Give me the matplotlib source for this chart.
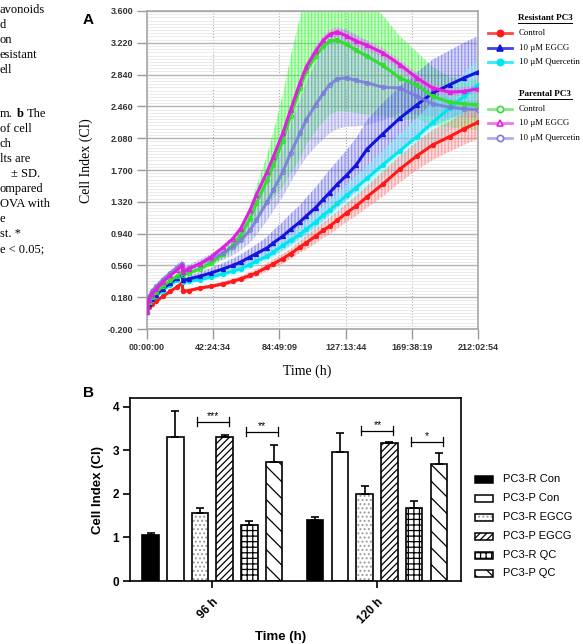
import matplotlib
matplotlib.use('Agg')
import matplotlib.pyplot as plt
import numpy as np
from matplotlib.lines import Line2D
from matplotlib.patches import Rectangle
from matplotlib.ticker import AutoMinorLocator

W, H = 583, 644

# ---------------- panel A: real-time cell index ----------------
t_h = [0, 1, 3, 6, 10, 15, 19, 22.5, 23, 27, 34, 41, 49, 55, 60, 66, 70, 77, 81, 87,
       92, 98, 102, 108, 113, 117, 122, 128, 134, 141, 151, 162, 173, 183, 194, 203, 212]

r_con = [0.0, 0.06, 0.10, 0.13, 0.19, 0.25, 0.30, 0.35, 0.25, 0.26, 0.29, 0.31, 0.34, 0.37, 0.40,
         0.44, 0.47, 0.54, 0.58, 0.64, 0.70, 0.78, 0.83, 0.91, 0.98, 1.03, 1.10, 1.19, 1.27, 1.38,
         1.53, 1.71, 1.87, 2.00, 2.10, 2.19, 2.27]
r_egcg = [0.0, 0.10, 0.16, 0.21, 0.28, 0.35, 0.41, 0.47, 0.38, 0.40, 0.43, 0.47, 0.52, 0.56, 0.60,
          0.66, 0.70, 0.77, 0.83, 0.91, 0.99, 1.08, 1.15, 1.25, 1.35, 1.43, 1.53, 1.64, 1.76, 1.95,
          2.13, 2.32, 2.48, 2.62, 2.72, 2.80, 2.87]
r_qc = [0.0, 0.10, 0.15, 0.19, 0.26, 0.33, 0.38, 0.45, 0.36, 0.37, 0.39, 0.42, 0.46, 0.49, 0.52,
        0.57, 0.61, 0.67, 0.72, 0.80, 0.86, 0.93, 0.99, 1.08, 1.16, 1.22, 1.30, 1.40, 1.49, 1.60,
        1.76, 1.93, 2.10, 2.27, 2.44, 2.58, 2.72]
p_con = [0.0, 0.12, 0.18, 0.24, 0.31, 0.38, 0.43, 0.48, 0.45, 0.47, 0.52, 0.59, 0.70, 0.80, 0.92,
         1.12, 1.30, 1.58, 1.76, 2.05, 2.35, 2.68, 2.88, 3.06, 3.18, 3.24, 3.25, 3.20, 3.13, 3.06,
         2.95, 2.80, 2.71, 2.58, 2.51, 2.49, 2.48]
p_egcg = [0.0, 0.15, 0.22, 0.28, 0.36, 0.44, 0.50, 0.56, 0.48, 0.52, 0.58, 0.66, 0.78, 0.88, 1.00,
          1.22, 1.40, 1.68, 1.86, 2.14, 2.42, 2.74, 2.93, 3.12, 3.25, 3.32, 3.35, 3.30, 3.24, 3.19,
          3.10, 2.96, 2.80, 2.68, 2.63, 2.64, 2.67]
p_qc = [0.0, 0.18, 0.25, 0.31, 0.39, 0.47, 0.53, 0.58, 0.50, 0.53, 0.58, 0.64, 0.71, 0.78, 0.86,
        0.98, 1.10, 1.32, 1.46, 1.68, 1.90, 2.14, 2.30, 2.48, 2.62, 2.72, 2.79, 2.80, 2.77, 2.74,
        2.69, 2.68, 2.58, 2.49, 2.45, 2.43, 2.42]

sd_r_con = [0.0, 0.01, 0.01, 0.01, 0.01, 0.01, 0.01, 0.01, 0.01, 0.02, 0.02, 0.02, 0.03, 0.03, 0.03,
            0.04, 0.04, 0.05, 0.05, 0.06, 0.06, 0.07, 0.08, 0.09, 0.09, 0.10, 0.10, 0.11, 0.12, 0.13,
            0.15, 0.16, 0.17, 0.18, 0.18, 0.19, 0.20]
sd_r_egcg = [0.0, 0.01, 0.01, 0.01, 0.02, 0.02, 0.02, 0.03, 0.03, 0.04, 0.05, 0.06, 0.07, 0.08, 0.09,
             0.10, 0.11, 0.13, 0.15, 0.17, 0.19, 0.20, 0.22, 0.24, 0.26, 0.27, 0.28, 0.30, 0.32, 0.35,
             0.37, 0.38, 0.39, 0.40, 0.41, 0.42, 0.43]
sd_r_qc = [0.0, 0.01, 0.01, 0.01, 0.01, 0.02, 0.02, 0.02, 0.02, 0.03, 0.03, 0.03, 0.04, 0.04, 0.05,
           0.05, 0.06, 0.06, 0.07, 0.08, 0.08, 0.09, 0.10, 0.11, 0.11, 0.12, 0.12, 0.13, 0.14, 0.15,
           0.17, 0.20, 0.22, 0.25, 0.27, 0.28, 0.30]
sd_p_con = [0.0, 0.02, 0.02, 0.02, 0.02, 0.02, 0.02, 0.02, 0.02, 0.03, 0.03, 0.04, 0.06, 0.08, 0.10,
            0.15, 0.20, 0.30, 0.40, 0.55, 0.70, 0.85, 0.88, 0.90, 0.90, 0.88, 0.85, 0.80, 0.75, 0.70,
            0.60, 0.50, 0.40, 0.35, 0.30, 0.30, 0.30]
sd_p_egcg = [0.0, 0.01, 0.01, 0.01, 0.01, 0.01, 0.02, 0.02, 0.02, 0.02, 0.02, 0.02, 0.03, 0.03, 0.03,
             0.03, 0.04, 0.04, 0.04, 0.05, 0.05, 0.05, 0.05, 0.06, 0.06, 0.06, 0.06, 0.06, 0.06, 0.06,
             0.06, 0.06, 0.06, 0.05, 0.05, 0.05, 0.05]
sd_p_qc = [0.0, 0.03, 0.03, 0.03, 0.03, 0.03, 0.04, 0.04, 0.04, 0.04, 0.05, 0.06, 0.08, 0.10, 0.12,
           0.15, 0.18, 0.22, 0.25, 0.30, 0.35, 0.40, 0.45, 0.50, 0.55, 0.58, 0.60, 0.58, 0.55, 0.50,
           0.40, 0.30, 0.22, 0.15, 0.12, 0.10, 0.10]

x_ticks_h = [0, 42.41, 84.82, 127.23, 169.64, 212.05]
x_tick_labels = ['00:00:00', '42:24:34', '84:49:09', '127:13:44', '169:38:19', '212:02:54']
y_ticks_a = [-0.2, 0.18, 0.56, 0.94, 1.32, 1.70, 2.08, 2.46, 2.84, 3.22, 3.60]

# ---------------- panel B: cell index at 96 h / 120 h ----------------
groups = ['96 h', '120 h']
series_b = ['PC3-R Con', 'PC3-P Con', 'PC3-R EGCG', 'PC3-P EGCG', 'PC3-R QC', 'PC3-P QC']
ci_96 = [1.06, 3.31, 1.56, 3.31, 1.28, 2.73]
sd_96 = [0.05, 0.60, 0.12, 0.03, 0.10, 0.40]
ci_120 = [1.40, 2.97, 2.00, 3.17, 1.68, 2.69]
sd_120 = [0.07, 0.42, 0.18, 0.03, 0.16, 0.25]
# (group, bar i, bar j, bracket height, label)
sig = [(0, 2, 3, 3.66, '***'), (0, 4, 5, 3.43, '**'),
       (1, 2, 3, 3.45, '**'), (1, 4, 5, 3.20, '*')]

# clipped caption of the neighbouring column: (text, x px, y px, bold)
caption = [('avonoids', 0, 10, False), ('d', 0, 25, False), ('on', 0, 40, False),
           ('esistant', 0, 55, False), ('ell', 0, 70, False),
           ('m.', 0, 114, False), ('b', 17, 114, True), ('The', 27, 114, False),
           ('of cell', 0, 129, False), ('ch', 0, 144, False), ('lts are', 0, 159, False),
           ('\u00b1 SD.', 11, 174, False), ('ompared', 0, 189, False), ('OVA with', 0, 204, False),
           ('e', 0, 219, False), ('st. *', 0, 234, False), ('e < 0.05;', 0, 249, False)]

plt.rcParams['hatch.linewidth'] = 0.9
SERIF = ['Liberation Serif', 'DejaVu Serif']
SANS = ['Liberation Sans', 'DejaVu Sans']


def fx(x):
    return x / W


def fy(y):
    return 1 - y / H


fig = plt.figure(figsize=(W / 100, H / 100), dpi=100)

for txt, xx, yy, bold in caption:
    fig.text(fx(xx), fy(yy), txt, family=SERIF, fontsize=9, va='center', ha='left',
             fontweight='bold' if bold else 'normal')

# ---- A ----
ax = fig.add_axes([fx(147), fy(329), fx(331), 318 / H])
t = np.array(t_h)

series_a = [
    (p_con, sd_p_con, '#33dd33', '#22ff22', 'o', False),
    (p_qc, sd_p_qc, '#7a7adc', '#8a8ae8', 'o', False),
    (r_egcg, sd_r_egcg, '#1414dd', '#5a5aee', '^', True),
    (r_qc, sd_r_qc, '#00e6ee', '#70ffff', 'o', True),
    (r_con, sd_r_con, '#ff1a1a', '#ff7070', 'o', True),
    (p_egcg, sd_p_egcg, '#e020e0', '#ee70ee', '^', False),
]
for vals, sd, col, bcol, mk, filled in series_a:
    v = np.array(vals)
    s = np.array(sd)
    ax.fill_between(t, v - s, v + s, facecolor=matplotlib.colors.to_rgba(bcol, 0.22),
                    edgecolor=matplotlib.colors.to_rgba(bcol, 0.55), hatch='|||||',
                    linewidth=0, zorder=2)

line_order = [4, 3, 2, 0, 1, 5]
for k in line_order:
    vals, sd, col, bcol, mk, filled = series_a[k]
    ax.plot(t, vals, color=col, lw=2.2, marker=mk, ms=2.8,
            mfc=col if filled else 'none', mec=col, mew=1.0, zorder=3,
            alpha=0.85 if k == 1 else 1.0)

ax.set_xlim(0, 212.05)
ax.set_ylim(-0.2, 3.6)
ax.set_xticks(x_ticks_h)
ax.set_xticklabels(x_tick_labels)
ax.set_yticks(y_ticks_a)
ax.set_yticklabels(['%.3f' % v for v in y_ticks_a])
ax.yaxis.set_minor_locator(AutoMinorLocator(10))
ax.tick_params(axis='y', which='minor', length=0)
ax.tick_params(axis='both', which='major', length=7, width=1.0, color='#999999',
               labelsize=6.5, labelcolor='#333333', pad=3)
for lab in ax.get_xticklabels() + ax.get_yticklabels():
    lab.set_family(SANS)
    lab.set_fontweight('bold')
ax.grid(axis='y', which='major', color='#b4b4b4', lw=1.0, zorder=0)
ax.grid(axis='y', which='minor', color='#e8e8e8', lw=0.6, zorder=0)
ax.grid(axis='x', which='major', color='#aaaaaa', lw=0.8, ls=':', zorder=0)
ax.set_axisbelow(True)
for sp in ax.spines.values():
    sp.set_color('#a8a8a8')
    sp.set_linewidth(1.2)

fig.text(fx(86), fy(161), 'Cell Index (CI)', family=SERIF, fontsize=10, rotation=90,
         ha='center', va='center')
fig.text(fx(307), fy(371), 'Time (h)', family=SERIF, fontsize=10, ha='center', va='center')
fig.text(fx(88), fy(20), 'A', family=SANS, fontsize=11, fontweight='bold', ha='center', va='center')

# legend A (drawn by hand)
leg_blocks = [
    ('Resistant PC3', 18, [('Control', 33, 4), ('10 \u00b5M EGCG', 48, 2), ('10 \u00b5M Quercetin', 62, 3)]),
    ('Parental PC3', 94, [('Control', 109, 0), ('10 \u00b5M EGCG', 123, 5), ('10 \u00b5M Quercetin', 138, 1)]),
]
for head, hy, rows in leg_blocks:
    fig.text(fx(545), fy(hy), head, family=SERIF, fontsize=6.6, fontweight='bold',
             ha='center', va='center')
    fig.add_artist(Line2D([fx(518), fx(572)], [fy(hy + 5), fy(hy + 5)], color='black', lw=0.7))
    for lab, ry, k in rows:
        vals, sd, col, bcol, mk, filled = series_a[k]
        fig.add_artist(Line2D([fx(488), fx(512)], [fy(ry), fy(ry)], color=col, lw=2.0,
                              alpha=0.8 if filled else 0.6))
        fig.add_artist(Line2D([fx(500)], [fy(ry)], color=col, marker=mk, ms=4.5,
                              mfc=col if filled else 'white', mec=col, mew=1.2, lw=0))
        fig.text(fx(519), fy(ry), lab, family=SERIF, fontsize=6.3, ha='left', va='center')

# ---- B ----
bx = fig.add_axes([fx(130), fy(581), fx(331), 183 / H])
pitch, width = 0.15, 0.10
faces = ['black', 'white', 'white', 'white', 'white', 'white']
hatches = [None, None, '....', '/////', '+++', '\\\\']
for g, (vals, sds) in enumerate([(ci_96, sd_96), (ci_120, sd_120)]):
    xs = [g + (i - 2.5) * pitch for i in range(len(series_b))]
    for i in range(len(series_b)):
        if hatches[i] == '....':
            bx.bar(xs[i], vals[i], width, color='white', edgecolor='#9a9a9a', hatch='....',
                   lw=0, zorder=2)
            bx.bar(xs[i], vals[i], width, color='none', edgecolor='black', lw=1.2, zorder=3)
        else:
            bx.bar(xs[i], vals[i], width, color=faces[i], edgecolor='black',
                   hatch=hatches[i], lw=1.2, zorder=2)
        bx.errorbar(xs[i], vals[i], yerr=[[0], [sds[i]]], fmt='none', ecolor='black',
                    elinewidth=1.2, capsize=3, capthick=1.2, zorder=4)

for g, i, j, yb, lab in sig:
    x1 = g + (i - 2.5) * pitch - 0.02
    x2 = g + (j - 2.5) * pitch + 0.025
    bx.plot([x1, x2], [yb, yb], color='black', lw=0.9)
    bx.plot([x1, x1], [yb - 0.1, yb + 0.1], color='black', lw=0.9)
    bx.plot([x2, x2], [yb - 0.1, yb + 0.1], color='black', lw=0.9)
    bx.text((x1 + x2) / 2, yb + 0.02, lab, ha='center', va='bottom', fontsize=7.5,
            family=SANS)

bx.set_xlim(-0.5, 1.51)
bx.set_ylim(0, 4.2)
bx.set_yticks([0, 1, 2, 3, 4])
bx.set_xticks([0, 1])
bx.set_xticklabels(groups, rotation=45, ha='right', va='top', rotation_mode='anchor')
bx.tick_params(axis='both', length=5, width=1.2, labelsize=8.5, pad=3)
bx.tick_params(axis='x', pad=6)
for lab in bx.get_xticklabels() + bx.get_yticklabels():
    lab.set_family(SANS)
    lab.set_fontweight('bold')
for sp in bx.spines.values():
    sp.set_linewidth(1.2)
bx.set_ylabel('Cell Index (CI)', family=SANS, fontsize=9.5, fontweight='bold', labelpad=6)
fig.text(fx(281), fy(637), 'Time (h)', family=SANS, fontsize=9.5, fontweight='bold',
         ha='center', va='center')
fig.text(fx(88), fy(393), 'B', family=SANS, fontsize=11, fontweight='bold', ha='center', va='center')

# legend B (drawn by hand)
leg_y = [479, 498, 517, 536, 555, 573]
for i, name in enumerate(series_b):
    y0 = leg_y[i]
    if hatches[i] == '....':
        fig.add_artist(Rectangle((fx(475), fy(y0 + 3.5)), fx(18), 7 / H, transform=fig.transFigure,
                                 facecolor='white', edgecolor='#9a9a9a', hatch='....', lw=0))
        fig.add_artist(Rectangle((fx(475), fy(y0 + 3.5)), fx(18), 7 / H, transform=fig.transFigure,
                                 facecolor='none', edgecolor='black', lw=1.1))
    else:
        fig.add_artist(Rectangle((fx(475), fy(y0 + 3.5)), fx(18), 7 / H, transform=fig.transFigure,
                                 facecolor=faces[i], edgecolor='black', hatch=hatches[i], lw=1.1))
    fig.text(fx(503), fy(y0), name, family=SANS, fontsize=8, ha='left', va='center')

fig.savefig('out.png', dpi=100)
